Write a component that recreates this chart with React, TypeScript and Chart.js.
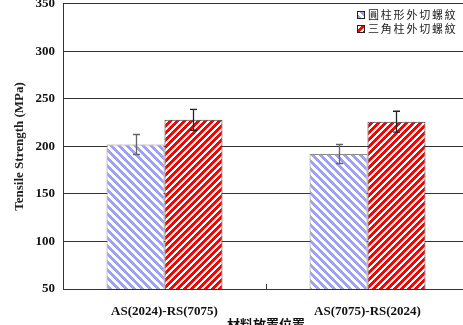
import React, { useEffect, useRef } from "react";
import { Chart, registerables } from "chart.js";

Chart.register(...registerables);

// Tensile strength of joints by material placement
const categories = ["AS(2024)-RS(7075)", "AS(7075)-RS(2024)"];
const seriesLabels = ["圓柱形外切螺紋", "三角柱外切螺紋"];
const cylinderValues = [202, 192];
const cylinderErrors = [10.5, 10];
const triangleValues = [228, 226];
const triangleErrors = [11, 11];
const yTicks = [50, 100, 150, 200, 250, 300, 350];
const yTitle = "Tensile Strength (MPa)";
const xTitle = "材料放置位置";

const SERIF = '"Liberation Serif", "Times New Roman", serif';
const CJK = '"Noto Sans CJK TC", "Noto Sans CJK SC", sans-serif';

// canvas is shifted up so the plot frame sits near the top edge
const SHIFT = 12;

// crisp pixel-aligned diagonal stripes on white
function makeStripes(rgb: [number, number, number], size: number, width: number, forward: boolean): CanvasPattern | string {
  const c = document.createElement("canvas");
  c.width = size;
  c.height = size;
  const g = c.getContext("2d");
  const fallback = `rgb(${rgb.join(",")})`;
  if (!g) return fallback;
  const img = g.createImageData(size, size);
  for (let y = 0; y < size; y++) {
    for (let x = 0; x < size; x++) {
      const d = forward ? (x + y) % size : (((x - y) % size) + size) % size;
      const on = d < width;
      const i = (y * size + x) * 4;
      img.data[i] = on ? rgb[0] : 255;
      img.data[i + 1] = on ? rgb[1] : 255;
      img.data[i + 2] = on ? rgb[2] : 255;
      img.data[i + 3] = 255;
    }
  }
  g.putImageData(img, 0, 0);
  const p = g.createPattern(c, "repeat");
  return p || fallback;
}

export default function App() {
  const ref = useRef<HTMLCanvasElement | null>(null);

  useEffect(() => {
    document.body.style.margin = "0";
    const canvas = ref.current;
    if (!canvas) return;

    const bluePattern = makeStripes([160, 160, 245], 8, 4, false);
    const redPattern = makeStripes([255, 0, 0], 7, 4, true);
    const errors = [cylinderErrors, triangleErrors];
    const errColors = ["#666666", "#222222"];
    const legendFills = [bluePattern, redPattern];

    const extras = {
      id: "extras",
      afterDatasetsDraw(chart: any) {
        const ctx = chart.ctx;
        const y = chart.scales.y;
        const x = chart.scales.x;
        // error bars
        chart.data.datasets.forEach((ds: any, di: number) => {
          const meta = chart.getDatasetMeta(di);
          meta.data.forEach((bar: any, i: number) => {
            const v = ds.data[i];
            const e = errors[di][i];
            const top = y.getPixelForValue(v + e);
            const bot = y.getPixelForValue(v - e);
            const cx = Math.round(bar.x) + 0.5;
            ctx.save();
            ctx.strokeStyle = errColors[di];
            ctx.lineWidth = 1.3;
            ctx.beginPath();
            ctx.moveTo(cx, top);
            ctx.lineTo(cx, bot);
            ctx.moveTo(cx - 3.5, top);
            ctx.lineTo(cx + 3.5, top);
            ctx.moveTo(cx - 3.5, bot);
            ctx.lineTo(cx + 3.5, bot);
            ctx.stroke();
            ctx.restore();
          });
        });
        // tick mark between categories
        const mid = Math.round((x.getPixelForValue(0) + x.getPixelForValue(1)) / 2) + 0.5;
        const base = chart.chartArea.bottom;
        ctx.save();
        ctx.strokeStyle = "#333";
        ctx.lineWidth = 1;
        ctx.beginPath();
        ctx.moveTo(mid, base);
        ctx.lineTo(mid, base - 5);
        ctx.stroke();
        ctx.restore();
      },
      afterDraw(chart: any) {
        const ctx = chart.ctx;
        ctx.save();
        ctx.font = `11px ${CJK}`;
        ctx.textBaseline = "middle";
        (ctx as any).letterSpacing = "1.8px";
        chart.data.datasets.forEach((ds: any, di: number) => {
          const rowY = SHIFT + 15 + di * 14;
          ctx.fillStyle = legendFills[di];
          ctx.fillRect(358, rowY - 3.5, 7, 7);
          ctx.strokeStyle = "#222";
          ctx.lineWidth = 1;
          ctx.strokeRect(357.5, rowY - 3.5, 7, 7);
          ctx.fillStyle = "#222";
          ctx.fillText(ds.label, 368, rowY);
        });
        ctx.restore();
      },
    };

    const chart = new Chart(canvas, {
      type: "bar",
      data: {
        labels: categories,
        datasets: [
          {
            label: seriesLabels[0],
            data: cylinderValues,
            backgroundColor: bluePattern as any,
            borderColor: "#8a8a8a",
            borderWidth: 1,
          },
          {
            label: seriesLabels[1],
            data: triangleValues,
            backgroundColor: redPattern as any,
            borderColor: "#333333",
            borderWidth: 1,
          },
        ],
      },
      options: {
        animation: false,
        responsive: false,
        maintainAspectRatio: false,
        devicePixelRatio: 1,
        layout: { padding: { top: 3, right: 0, left: 0, bottom: 0 } },
        datasets: { bar: { barPercentage: 1, categoryPercentage: 0.571 } },
        plugins: {
          legend: { display: false },
          tooltip: { enabled: false },
        },
        scales: {
          x: {
            grid: { display: false },
            border: { display: true, color: "#333", width: 1 },
            ticks: {
              padding: 7,
              color: "#111",
              font: { family: SERIF, size: 13, weight: "bold" },
            },
            title: {
              display: true,
              text: xTitle,
              color: "#111",
              font: { family: CJK, size: 13, weight: "bold" },
              padding: { top: 0, bottom: 8 },
            },
            afterFit(scale: any) {
              scale.height = 51;
            },
          },
          y: {
            min: 50,
            max: 350,
            afterBuildTicks(scale: any) {
              scale.ticks = yTicks.map((v) => ({ value: v }));
            },
            grid: { color: "#333333", lineWidth: 1, drawTicks: false },
            border: { display: true, color: "#333", width: 1 },
            ticks: {
              padding: 8,
              color: "#111",
              font: { family: SERIF, size: 13, weight: "bold" },
            },
            title: {
              display: true,
              text: yTitle,
              color: "#222",
              font: { family: SERIF, size: 13, weight: "bold" },
              padding: { top: 12, bottom: 0 },
            },
            afterFit(scale: any) {
              scale.width = 63;
            },
          },
        },
      },
      plugins: [extras],
    });

    return () => chart.destroy();
  }, []);

  return (
    <div style={{ position: "fixed", left: 0, top: 0, width: 463, height: 325, overflow: "hidden", background: "#fff" }}>
      <canvas
        ref={ref}
        width={469}
        height={352}
        style={{ display: "block", width: 469, height: 352, marginTop: -SHIFT }}
      />
    </div>
  );
}
